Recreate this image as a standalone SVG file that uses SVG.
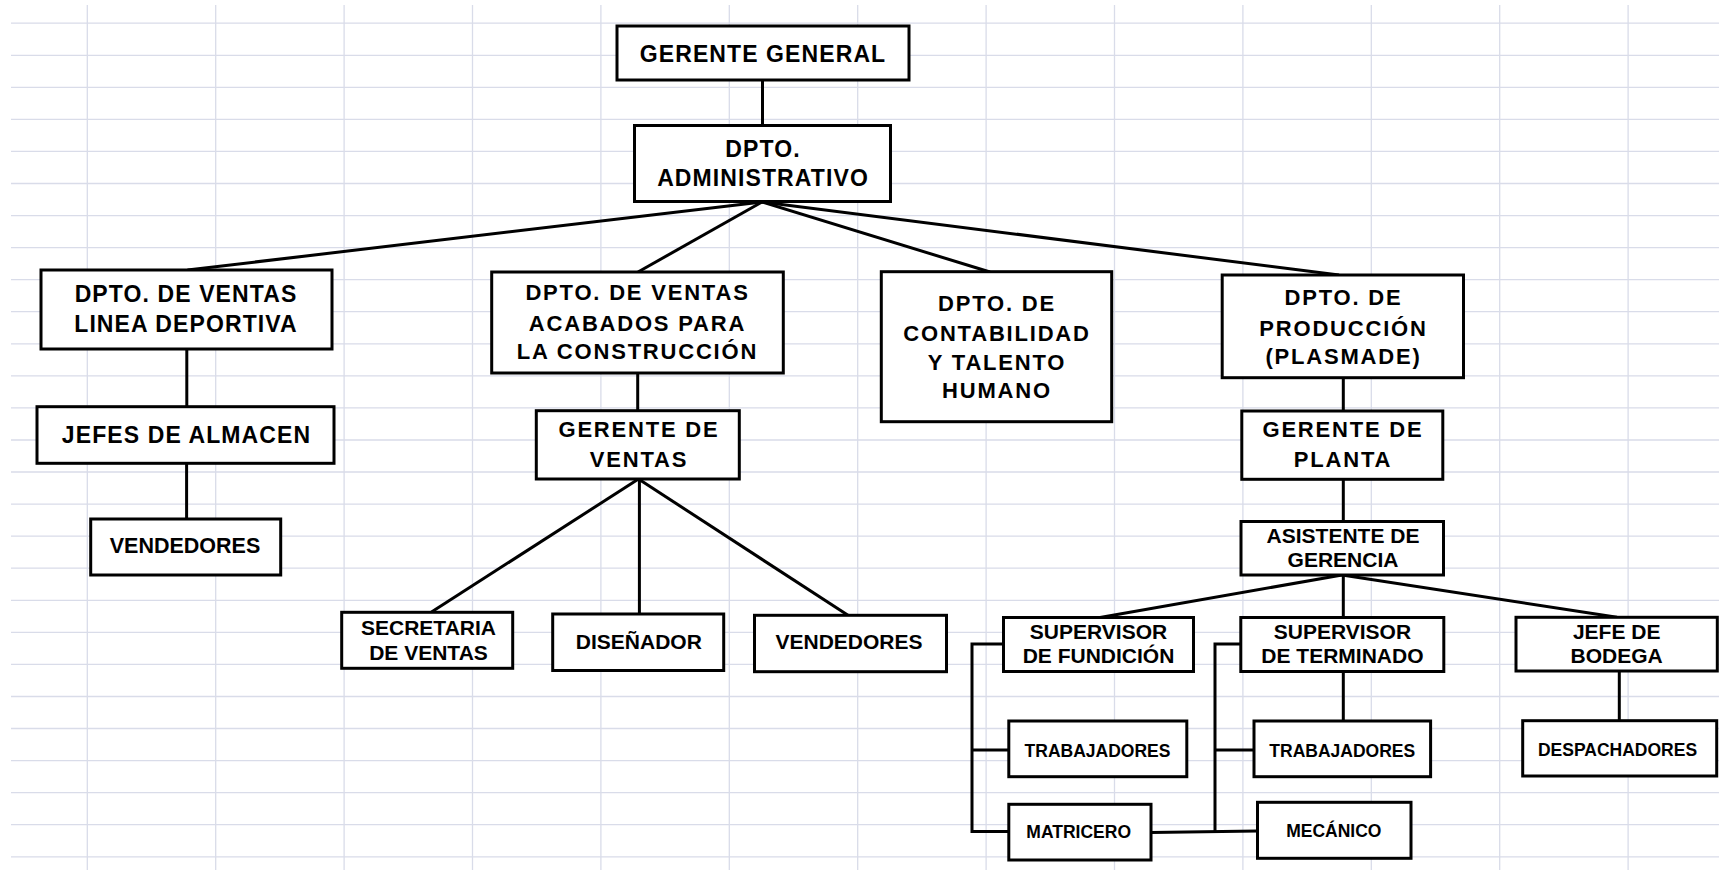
<svg xmlns="http://www.w3.org/2000/svg" width="1719" height="870" viewBox="0 0 1719 870">
<style>
.grid{stroke:#d9dce9;stroke-width:1.3;fill:none}
.box{fill:#ffffff;stroke:#000;stroke-width:3}
.con{stroke:#000;stroke-width:3;fill:none;stroke-linejoin:miter}
text{font-family:"Liberation Sans",Arial,sans-serif;font-weight:bold;fill:#000;text-anchor:middle}
.t1{font-size:23px;letter-spacing:1.1px}
.t2{font-size:22px;letter-spacing:1.8px}
.t3{font-size:21px}
.t4{font-size:17.5px}
</style>
<rect x="0" y="0" width="1719" height="870" fill="#ffffff"/>
<path class="grid" d="M11 23.2H1719M11 55.3H1719M11 87.3H1719M11 119.4H1719M11 151.4H1719M11 183.5H1719M11 215.6H1719M11 247.6H1719M11 279.7H1719M11 311.7H1719M11 343.8H1719M11 375.9H1719M11 407.9H1719M11 440H1719M11 472H1719M11 504.1H1719M11 536.2H1719M11 568.2H1719M11 600.3H1719M11 632.3H1719M11 664.4H1719M11 696.5H1719M11 728.5H1719M11 760.6H1719M11 792.6H1719M11 824.7H1719M11 856.8H1719M87.3 5V870M215.7 5V870M344.1 5V870M472.5 5V870M600.9 5V870M729.3 5V870M857.7 5V870M986.1 5V870M1114.5 5V870M1242.9 5V870M1371.3 5V870M1499.7 5V870M1628.1 5V870"/>
<g id="connectors">
<line class="con" x1="762.5" y1="80" x2="762.5" y2="125.5"/>
<line class="con" x1="762" y1="202" x2="187.5" y2="270"/>
<line class="con" x1="762" y1="202" x2="638" y2="272"/>
<line class="con" x1="762" y1="202" x2="990" y2="272"/>
<line class="con" x1="762" y1="202" x2="1339" y2="275"/>
<line class="con" x1="186.8" y1="349" x2="186.8" y2="407"/>
<line class="con" x1="186.6" y1="463" x2="186.6" y2="519"/>
<line class="con" x1="637.7" y1="373" x2="637.7" y2="411"/>
<line class="con" x1="638.5" y1="479" x2="431.5" y2="612"/>
<line class="con" x1="639.4" y1="479" x2="639.4" y2="614"/>
<line class="con" x1="638.5" y1="479" x2="848" y2="615.3"/>
<line class="con" x1="1343.3" y1="377.7" x2="1343.3" y2="411"/>
<line class="con" x1="1343.3" y1="479.3" x2="1343.3" y2="521.5"/>
<line class="con" x1="1342" y1="575" x2="1100" y2="617.5"/>
<line class="con" x1="1343.3" y1="575" x2="1343.3" y2="617.5"/>
<line class="con" x1="1342" y1="575" x2="1617" y2="617.3"/>
<polyline class="con" points="1003.5,644 972,644 972,831.5 1008.8,831.5"/>
<line class="con" x1="972" y1="750" x2="1008.8" y2="750"/>
<line class="con" x1="1343.3" y1="671.5" x2="1343.3" y2="721"/>
<polyline class="con" points="1240.8,644 1215,644 1215,832"/>
<line class="con" x1="1215" y1="750" x2="1254" y2="750"/>
<line class="con" x1="1151" y1="832.5" x2="1257.5" y2="831"/>
<line class="con" x1="1619.3" y1="671" x2="1619.3" y2="720.7"/>
</g>
<g id="gerente-general"><rect class="box" x="617" y="26" width="292" height="54"/><text class="t1" x="763" y="61.5">GERENTE GENERAL</text></g>
<g id="dpto-administrativo"><rect class="box" x="634.5" y="125.5" width="256" height="76"/><text class="t1" x="763" y="156.7">DPTO.</text><text class="t1" x="763" y="186">ADMINISTRATIVO</text></g>
<g id="dpto-ventas-deportiva"><rect class="box" x="41" y="270" width="291" height="79"/><text class="t1" x="186" y="301.7">DPTO. DE VENTAS</text><text class="t1" x="186" y="331.7">LINEA DEPORTIVA</text></g>
<g id="jefes-almacen"><rect class="box" x="37" y="406.7" width="297" height="56.6"/><text class="t1" x="186.5" y="442.7">JEFES DE ALMACEN</text></g>
<g id="vendedores-1"><rect class="box" x="90.7" y="519" width="190" height="56"/><text class="t3" x="185" y="553.3" style="font-size:21.5px">VENDEDORES</text></g>
<g id="dpto-ventas-acabados"><rect class="box" x="491.7" y="272" width="291.6" height="101"/><text class="t2" x="637.5" y="300">DPTO. DE VENTAS</text><text class="t2" x="637.5" y="331">ACABADOS PARA</text><text class="t2" x="637.5" y="359">LA CONSTRUCCIÓN</text></g>
<g id="dpto-contabilidad"><rect class="box" x="881.3" y="271.7" width="230.4" height="150"/><text class="t2" x="997" y="310.7">DPTO. DE</text><text class="t2" x="997" y="340.7">CONTABILIDAD</text><text class="t2" x="997" y="369.5">Y TALENTO</text><text class="t2" x="997" y="398.3">HUMANO</text></g>
<g id="dpto-produccion"><rect class="box" x="1222.2" y="275" width="241.3" height="102.7"/><text class="t2" x="1343.5" y="305">DPTO. DE</text><text class="t2" x="1343.5" y="336">PRODUCCIÓN</text><text class="t2" x="1343.5" y="364">(PLASMADE)</text></g>
<g id="gerente-ventas"><rect class="box" x="536.3" y="410.7" width="203" height="68.3"/><text class="t2" x="639" y="437.3">GERENTE DE</text><text class="t2" x="639" y="467.3">VENTAS</text></g>
<g id="gerente-planta"><rect class="box" x="1241.8" y="411" width="201" height="68.3"/><text class="t2" x="1343" y="437">GERENTE DE</text><text class="t2" x="1343" y="467.3">PLANTA</text></g>
<g id="asistente-gerencia"><rect class="box" x="1241" y="521.5" width="202.5" height="53.5"/><text class="t3" x="1343" y="542.7">ASISTENTE DE</text><text class="t3" x="1343" y="566.7">GERENCIA</text></g>
<g id="secretaria-ventas"><rect class="box" x="341.7" y="612.3" width="171" height="56"/><text class="t3" x="428.5" y="635">SECRETARIA</text><text class="t3" x="428.5" y="660">DE VENTAS</text></g>
<g id="disenador"><rect class="box" x="552.7" y="614" width="171" height="56.5"/><text class="t3" x="638.8" y="649.3">DISEÑADOR</text></g>
<g id="vendedores-2"><rect class="box" x="754.5" y="615.3" width="192" height="56.4"/><text class="t3" x="849" y="649.3">VENDEDORES</text></g>
<g id="supervisor-fundicion"><rect class="box" x="1003.5" y="617.5" width="190" height="54"/><text class="t3" x="1098.5" y="639">SUPERVISOR</text><text class="t3" x="1098.5" y="663.3">DE FUNDICIÓN</text></g>
<g id="supervisor-terminado"><rect class="box" x="1240.8" y="617.5" width="203" height="54"/><text class="t3" x="1342.4" y="639">SUPERVISOR</text><text class="t3" x="1342.4" y="663.3">DE TERMINADO</text></g>
<g id="jefe-bodega"><rect class="box" x="1516" y="617.3" width="201.3" height="53.7"/><text class="t3" x="1616.7" y="639.3">JEFE DE</text><text class="t3" x="1616.7" y="663.3">BODEGA</text></g>
<g id="trabajadores-1"><rect class="box" x="1008.8" y="721" width="178" height="55.7"/><text class="t4" x="1097.5" y="756.7">TRABAJADORES</text></g>
<g id="trabajadores-2"><rect class="box" x="1254" y="721" width="176.6" height="55.7"/><text class="t4" x="1342.3" y="756.7">TRABAJADORES</text></g>
<g id="despachadores"><rect class="box" x="1522.7" y="720.7" width="194" height="55.3"/><text class="t4" x="1617.5" y="756">DESPACHADORES</text></g>
<g id="matricero"><rect class="box" x="1008.8" y="804.3" width="142.2" height="55.7"/><text class="t4" x="1078.7" y="838.3">MATRICERO</text></g>
<g id="mecanico"><rect class="box" x="1257.5" y="802.3" width="153.5" height="56"/><text class="t4" x="1333.8" y="836.7">MECÁNICO</text></g>
</svg>
